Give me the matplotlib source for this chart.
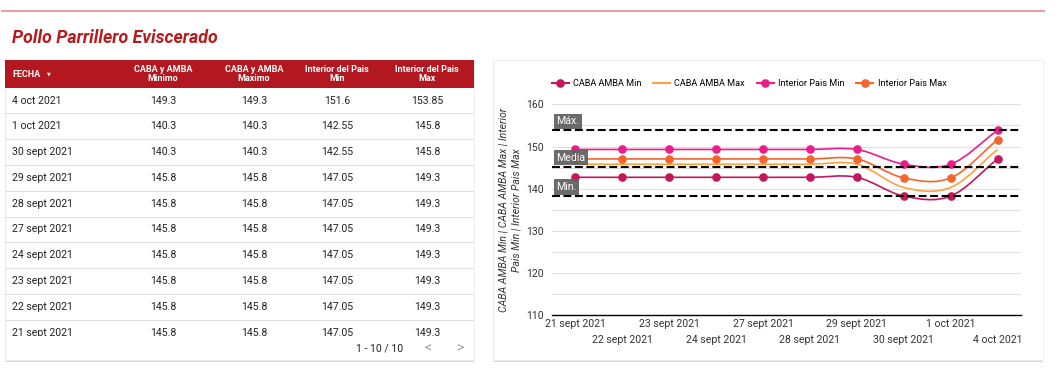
import matplotlib.pyplot as plt
import numpy as np
from matplotlib.lines import Line2D
from matplotlib.path import Path
from matplotlib.patches import PathPatch, Rectangle

plt.rcParams['font.family'] = ['Roboto', 'DejaVu Sans']

W, H = 1060, 373

# --- tabla (izquierda) ---
col_titulos = ["FECHA", "CABA y AMBA\nMinimo", "CABA y AMBA\nMaximo",
               "Interior del Pais\nMin", "Interior del Pais\nMax"]
fechas = ["4 oct 2021", "1 oct 2021", "30 sept 2021", "29 sept 2021", "28 sept 2021",
          "27 sept 2021", "24 sept 2021", "23 sept 2021", "22 sept 2021", "21 sept 2021"]
caba_minimo = [149.3, 140.3, 140.3, 145.8, 145.8, 145.8, 145.8, 145.8, 145.8, 145.8]
caba_maximo = [149.3, 140.3, 140.3, 145.8, 145.8, 145.8, 145.8, 145.8, 145.8, 145.8]
interior_min = [151.6, 142.55, 142.55, 147.05, 147.05, 147.05, 147.05, 147.05, 147.05, 147.05]
interior_max = [153.85, 145.8, 145.8, 149.3, 149.3, 149.3, 149.3, 149.3, 149.3, 149.3]

# --- grafico (derecha) ---
dias = ["21 sept 2021", "22 sept 2021", "23 sept 2021", "24 sept 2021", "27 sept 2021",
        "28 sept 2021", "29 sept 2021", "30 sept 2021", "1 oct 2021", "4 oct 2021"]
serie_caba_min = [142.7, 142.7, 142.7, 142.7, 142.7, 142.7, 142.7, 138.25, 138.25, 147.05]
serie_caba_max = [145.8, 145.8, 145.8, 145.8, 145.8, 145.8, 145.8, 140.3, 140.3, 149.3]
serie_int_min = [149.3, 149.3, 149.3, 149.3, 149.3, 149.3, 149.3, 145.8, 145.8, 153.85]
serie_int_max = [147.05, 147.05, 147.05, 147.05, 147.05, 147.05, 147.05, 142.55, 142.55, 151.6]
ref_nombres = ["Máx.", "Media", "Min."]
ref_valores = [153.85, 145.2, 138.25]

ROJO = "#b3171f"
TXT = "#222222"


def curva(y):
    # catmull-rom -> bezier, en espacio de indices (eje categorico)
    y = np.asarray(y, float)
    x = np.arange(len(y), dtype=float)
    m = np.empty(len(y))
    m[1:-1] = (y[2:] - y[:-2]) / 2
    m[0] = y[1] - y[0]
    m[-1] = y[-1] - y[-2]
    verts = [(x[0], y[0])]
    codes = [Path.MOVETO]
    for i in range(len(y) - 1):
        verts += [(x[i] + 1 / 3, y[i] + m[i] / 3),
                  (x[i + 1] - 1 / 3, y[i + 1] - m[i + 1] / 3),
                  (x[i + 1], y[i + 1])]
        codes += [Path.CURVE4] * 3
    return Path(verts, codes)


fig = plt.figure(figsize=(W / 100, H / 100), dpi=100)
bg = fig.add_axes([0, 0, 1, 1])
bg.set_xlim(0, W)
bg.set_ylim(H, 0)
bg.axis("off")

# linea superior y titulo
bg.plot([2, 1044], [11, 11], color="#e8a0a6", lw=1.5)
bg.text(12, 38, "Pollo Parrillero Eviscerado", fontsize=12.8, fontweight="bold",
        fontstyle="italic", color="#b71c1c", va="center")

# tarjetas
for x0, x1 in [(5, 474), (493, 1043)]:
    bg.add_patch(Rectangle((x0, 61.5), x1 - x0, 300, color="#d6d6d6", lw=0))
    bg.add_patch(Rectangle((x0, 60), x1 - x0, 300, facecolor="white",
                           edgecolor="#ececec", lw=0.6))

# cabecera de la tabla
bg.add_patch(Rectangle((5, 60), 469, 28, color=ROJO, lw=0))
col_x = [12, 163, 254, 337, 427]
bg.text(col_x[0], 74.5, col_titulos[0], color="white", fontsize=6.5,
        fontweight="bold", va="center")
bg.text(48.5, 73.5, "▼", color="white", fontsize=3.5, va="center", ha="center")
for cx, t in zip(col_x[1:], col_titulos[1:]):
    bg.text(cx, 74, t, color="white", fontsize=6.5, fontweight="bold",
            ha="center", va="center", linespacing=1.05)

# cuerpo de la tabla (recortado abajo)
tb = fig.add_axes([5 / W, 1 - 336 / H, 469 / W, 248 / H])
tb.set_xlim(5, 474)
tb.set_ylim(336, 88)
tb.axis("off")
paso = 25.8
for i, f in enumerate(fechas):
    yc = 100.5 + i * paso
    fila = [caba_minimo[i], caba_maximo[i], interior_min[i], interior_max[i]]
    tb.text(col_x[0], yc, f, fontsize=7.6, color=TXT, va="center", clip_on=True)
    for cx, v in zip(col_x[1:], fila):
        tb.text(cx, yc, f"{v:g}", fontsize=7.6, color=TXT, va="center",
                ha="center", clip_on=True)
    if i < len(fechas) - 1:
        tb.plot([5, 474], [yc + 12.9, yc + 12.9], color="#e0e0e0", lw=0.8)

bg.text(380, 348.5, "1 - 10 / 10", fontsize=7.6, color=TXT, ha="center", va="center")
bg.text(428, 348.5, "<", fontsize=10, color="#a0a0a0", ha="center", va="center")
bg.text(460, 348.5, ">", fontsize=10, color="#a0a0a0", ha="center", va="center")

# grafico de lineas
ax = fig.add_axes([552 / W, 1 - 315.3 / H, 469 / W, 211 / H])
ax.set_facecolor("none")
xs = np.arange(len(dias))
series = [
    ("CABA AMBA Min", serie_caba_min, "#c2185b", True),
    ("CABA AMBA Max", serie_caba_max, "#ffa040", False),
    ("Interior Pais Min", serie_int_min, "#ec1c8c", True),
    ("Interior Pais Max", serie_int_max, "#f4652d", True),
]
handles = []
for nombre, ys, c, marca in series:
    ax.add_patch(PathPatch(curva(ys), fill=False, edgecolor=c, lw=1.2, zorder=3))
    if marca:
        ax.plot(xs, ys, "o", color=c, ms=5.2, zorder=4)
    handles.append(Line2D([], [], color=c, lw=1.5, marker="o" if marca else None, ms=5.2))

for nombre, v in zip(ref_nombres, ref_valores):
    ax.axhline(v, color="black", lw=1.5, dashes=(3.8, 1.7), zorder=5)
    ax.annotate(nombre, xy=(0, v), xycoords=("axes fraction", "data"),
                xytext=(3.2, 6.5), textcoords="offset points", fontsize=7.6,
                color="white", va="center", ha="left", zorder=6,
                bbox=dict(boxstyle="square,pad=0.25", fc="#5e5e5e", ec="none", alpha=0.92))

ax.set_xlim(-0.5, len(dias) - 0.5)
ax.set_ylim(110, 160)
ax.set_yticks(np.arange(110, 161, 10))
ax.set_yticks(np.arange(115, 160, 10), minor=True)
ax.grid(True, which="both", axis="y", color="#e0e0e0", lw=0.8)
ax.set_axisbelow(True)
for s in ["top", "right", "left"]:
    ax.spines[s].set_visible(False)
ax.spines["bottom"].set_color("black")
ax.spines["bottom"].set_linewidth(1)
ax.tick_params(which="both", length=0, labelsize=7.6, labelcolor="#333333")
ax.tick_params(axis="y", pad=6)
ax.set_xticks(xs)
ax.set_xticklabels(dias)
for i, t in enumerate(ax.xaxis.get_major_ticks()):
    t.set_pad(3 if i % 2 == 0 else 14.5)
ax.set_ylabel("CABA AMBA Min | CABA AMBA Max | Interior\nPais Min | Interior Pais Max",
              fontsize=7.6, fontstyle="italic", color="#333333", linespacing=1.4, labelpad=3)

fig.legend(handles, [s[0] for s in series], ncol=4, loc="center left",
           bbox_to_anchor=(551.7 / W, 1 - 84 / H), frameon=False, fontsize=6.6,
           handlelength=1.85, handletextpad=0.45, columnspacing=1.3,
           borderaxespad=0, borderpad=0)

fig.savefig("out.png", dpi=100)
